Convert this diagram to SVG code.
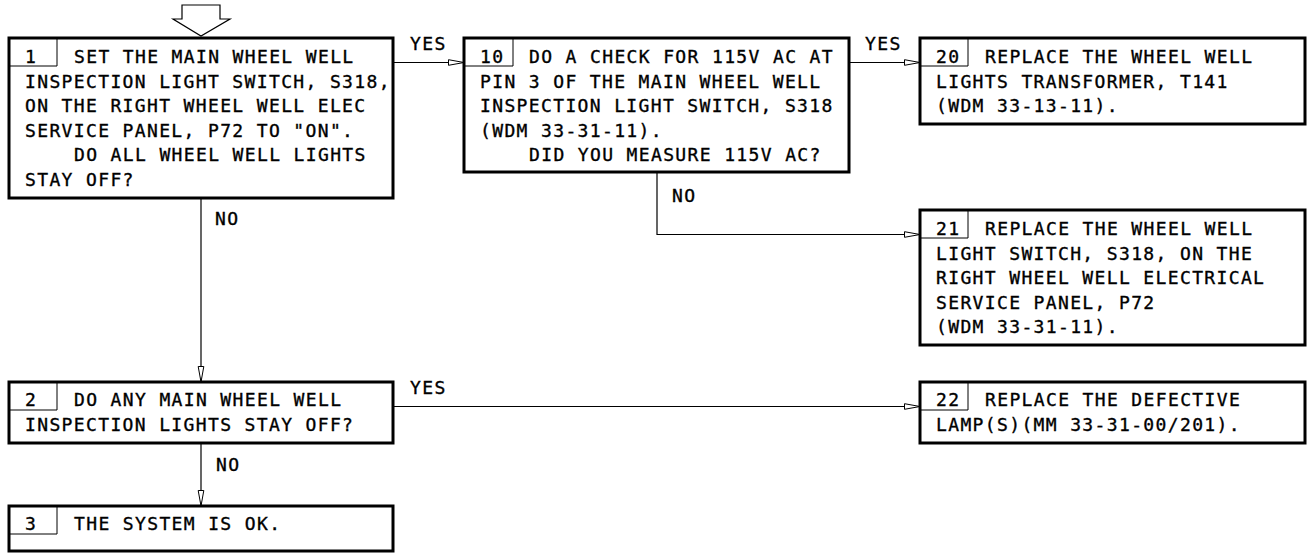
<svg xmlns="http://www.w3.org/2000/svg" width="1311" height="554" viewBox="0 0 1311 554">
<style>
  .box { fill: #fff; stroke: #000; stroke-width: 3; }
  .cell { fill: none; stroke: #000; stroke-width: 1; }
  .t { font-family: "DejaVu Sans Mono", "Liberation Mono", monospace; font-size: 18px; letter-spacing: 1.36px; fill: #000; stroke: #000; stroke-width: 0.35px; }
  .c { fill: none; stroke: #000; stroke-width: 1.2; }
</style>
<defs>
  <marker id="ah" markerUnits="userSpaceOnUse" viewBox="0 0 16 8" refX="16" refY="4" markerWidth="16" markerHeight="8" orient="auto">
    <path d="M0.5,1.2 L16,4 L0.5,6.8 Z" fill="#fff" stroke="#000" stroke-width="1"/>
  </marker>
</defs>
<rect width="1311" height="554" fill="#fff"/>

<g id="connectors">
  <polygon points="182,5 220,5 220,19 230,19 201,36 173,19 182,19" fill="#fff" stroke="#000" stroke-width="1.2"/>
  <path class="c" d="M393,62.5 H464" marker-end="url(#ah)"/>
  <text class="t" x="410" y="50">YES</text>
  <path class="c" d="M849,62.5 H920" marker-end="url(#ah)"/>
  <text class="t" x="865" y="50">YES</text>
  <path class="c" d="M657,172 V234.5 H920" marker-end="url(#ah)"/>
  <text class="t" x="672" y="202">NO</text>
  <path class="c" d="M201,198 V382" marker-end="url(#ah)"/>
  <text class="t" x="215" y="225">NO</text>
  <path class="c" d="M393,406.5 H920" marker-end="url(#ah)"/>
  <text class="t" x="410" y="394">YES</text>
  <path class="c" d="M201,443 V506" marker-end="url(#ah)"/>
  <text class="t" x="216" y="471">NO</text>
</g>

<g id="node1">
  <rect class="box" x="9" y="38" width="384" height="160"/>
  <path class="cell" d="M9,66 H57 V38"/>
  <text class="t" x="25" y="63">1</text>
  <text class="t" x="74" y="63">SET THE MAIN WHEEL WELL</text>
  <text class="t" x="25" y="87.5">INSPECTION LIGHT SWITCH, S318,</text>
  <text class="t" x="25" y="112">ON THE RIGHT WHEEL WELL ELEC</text>
  <text class="t" x="25" y="136.5">SERVICE PANEL, P72 TO "ON".</text>
  <text class="t" x="74" y="161">DO ALL WHEEL WELL LIGHTS</text>
  <text class="t" x="25" y="185.5">STAY OFF?</text>
</g>

<g id="node10">
  <rect class="box" x="464" y="38" width="385" height="134"/>
  <path class="cell" d="M464,66 H513 V38"/>
  <text class="t" x="480" y="63">10</text>
  <text class="t" x="529" y="63">DO A CHECK FOR 115V AC AT</text>
  <text class="t" x="480" y="87.5">PIN 3 OF THE MAIN WHEEL WELL</text>
  <text class="t" x="480" y="112">INSPECTION LIGHT SWITCH, S318</text>
  <text class="t" x="480" y="136.5">(WDM 33-31-11).</text>
  <text class="t" x="529" y="161">DID YOU MEASURE 115V AC?</text>
</g>

<g id="node20">
  <rect class="box" x="920" y="38" width="385" height="86"/>
  <path class="cell" d="M920,66 H968 V38"/>
  <text class="t" x="936" y="63">20</text>
  <text class="t" x="985" y="63">REPLACE THE WHEEL WELL</text>
  <text class="t" x="936" y="87.5">LIGHTS TRANSFORMER, T141</text>
  <text class="t" x="936" y="112">(WDM 33-13-11).</text>
</g>

<g id="node21">
  <rect class="box" x="920" y="210" width="385" height="135"/>
  <path class="cell" d="M920,238 H968 V210"/>
  <text class="t" x="936" y="235">21</text>
  <text class="t" x="985" y="235">REPLACE THE WHEEL WELL</text>
  <text class="t" x="936" y="259.5">LIGHT SWITCH, S318, ON THE</text>
  <text class="t" x="936" y="284">RIGHT WHEEL WELL ELECTRICAL</text>
  <text class="t" x="936" y="308.5">SERVICE PANEL, P72</text>
  <text class="t" x="936" y="333">(WDM 33-31-11).</text>
</g>

<g id="node2">
  <rect class="box" x="9" y="382" width="384" height="61"/>
  <path class="cell" d="M9,410 H57 V382"/>
  <text class="t" x="25" y="406">2</text>
  <text class="t" x="74" y="406">DO ANY MAIN WHEEL WELL</text>
  <text class="t" x="25" y="430.5">INSPECTION LIGHTS STAY OFF?</text>
</g>

<g id="node22">
  <rect class="box" x="920" y="382" width="385" height="61"/>
  <path class="cell" d="M920,410 H968 V382"/>
  <text class="t" x="936" y="406">22</text>
  <text class="t" x="985" y="406">REPLACE THE DEFECTIVE</text>
  <text class="t" x="936" y="430.5">LAMP(S)(MM 33-31-00/201).</text>
</g>

<g id="node3">
  <rect class="box" x="9" y="506" width="384" height="45"/>
  <path class="cell" d="M9,534 H57 V506"/>
  <text class="t" x="25" y="530">3</text>
  <text class="t" x="74" y="530">THE SYSTEM IS OK.</text>
</g>
</svg>
